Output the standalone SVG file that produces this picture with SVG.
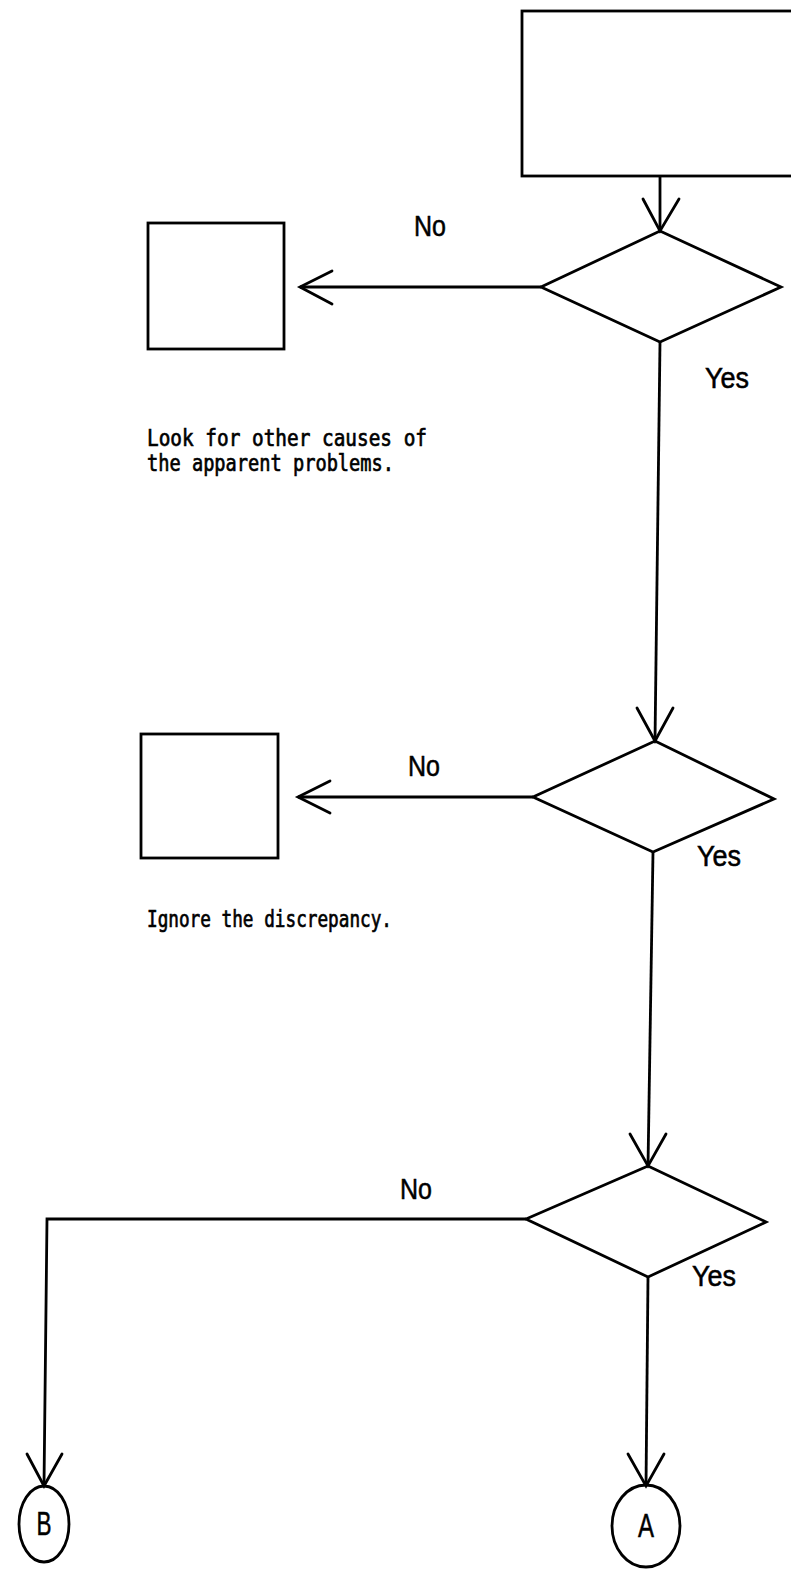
<svg xmlns="http://www.w3.org/2000/svg" width="791" height="1575" viewBox="0 0 791 1575">
  <style>
    .shape { fill: none; stroke: #000; stroke-width: 2.8; stroke-linejoin: miter; }
    .wire { fill: none; stroke: #000; stroke-width: 2.8; }
    .head { fill: none; stroke: #000; stroke-width: 2.8; stroke-linecap: round; stroke-linejoin: miter; }
    .lbl { font-family: "Liberation Sans", Arial, sans-serif; font-size: 27px; fill: #000; stroke: #000; stroke-width: 0.5; }
    .note { font-family: "DejaVu Sans Mono", "Liberation Mono", monospace; font-size: 20px; fill: #000; stroke: #000; stroke-width: 0.6; }
    .conn { font-family: "Liberation Sans", Arial, sans-serif; font-size: 26px; fill: #000; stroke: #000; stroke-width: 0.4; text-anchor: middle; }
  </style>
  <rect width="791" height="1575" fill="#fff"/>

  <!-- start box (runs off the right edge) -->
  <g id="start">
    <rect class="shape" x="522" y="11" width="290" height="165"/>
  </g>

  <!-- first decision and its "No" action -->
  <g id="decision1">
    <polygon class="shape" points="660,231 781,287 660,342 541,287"/>
  </g>
  <g id="action1">
    <rect class="shape" x="148" y="223" width="136" height="126"/>
    <text class="note" transform="translate(147,446) scale(1,1.12)" textLength="280" lengthAdjust="spacingAndGlyphs">Look for other causes of</text>
    <text class="note" transform="translate(147,471) scale(1,1.12)" textLength="247" lengthAdjust="spacingAndGlyphs">the apparent problems.</text>
  </g>

  <!-- second decision and its "No" action -->
  <g id="decision2">
    <polygon class="shape" points="655,741 774,799 653,852 533,797"/>
  </g>
  <g id="action2">
    <rect class="shape" x="141" y="734" width="137" height="124"/>
    <text class="note" transform="translate(147,927) scale(1,1.12)" textLength="245" lengthAdjust="spacingAndGlyphs">Ignore the discrepancy.</text>
  </g>

  <!-- third decision -->
  <g id="decision3">
    <polygon class="shape" points="648,1166 766,1222 648,1277 526,1219"/>
  </g>

  <!-- off-page connectors -->
  <g id="connB">
    <ellipse class="shape" cx="44" cy="1524" rx="25" ry="38"/>
    <text class="conn" transform="translate(44,1535) scale(1,1.3)" textLength="15" lengthAdjust="spacingAndGlyphs">B</text>
  </g>
  <g id="connA">
    <ellipse class="shape" cx="646" cy="1526" rx="34" ry="41"/>
    <text class="conn" transform="translate(646,1537) scale(1,1.3)" textLength="16" lengthAdjust="spacingAndGlyphs">A</text>
  </g>

  <!-- connectors -->
  <g id="connectors">
    <path class="wire" d="M660,176 L660,231"/>
    <path class="head" d="M643,199 L660,231 L679,199"/>

    <path class="wire" d="M541,287 L300,287"/>
    <path class="head" d="M332,271 L300,287 L332,304"/>
    <text class="lbl" transform="translate(414,236) scale(1,1.12)" textLength="32" lengthAdjust="spacingAndGlyphs">No</text>
    <text class="lbl" transform="translate(705,388) scale(1,1.12)" textLength="44" lengthAdjust="spacingAndGlyphs">Yes</text>

    <path class="wire" d="M660,342 L655,741"/>
    <path class="head" d="M637,708 L655,741 L673,708"/>

    <path class="wire" d="M533,797 L298,797"/>
    <path class="head" d="M330,781 L298,797 L330,813"/>
    <text class="lbl" transform="translate(408,776) scale(1,1.12)" textLength="32" lengthAdjust="spacingAndGlyphs">No</text>
    <text class="lbl" transform="translate(697,866) scale(1,1.12)" textLength="44" lengthAdjust="spacingAndGlyphs">Yes</text>

    <path class="wire" d="M653,852 L648,1166"/>
    <path class="head" d="M630,1134 L648,1166 L666,1134"/>

    <path class="wire" d="M526,1219 L47,1219 L44,1486"/>
    <path class="head" d="M27,1454 L44,1486 L62,1454"/>
    <text class="lbl" transform="translate(400,1199) scale(1,1.12)" textLength="32" lengthAdjust="spacingAndGlyphs">No</text>
    <text class="lbl" transform="translate(692,1286) scale(1,1.12)" textLength="44" lengthAdjust="spacingAndGlyphs">Yes</text>

    <path class="wire" d="M648,1277 L646,1486"/>
    <path class="head" d="M628,1454 L646,1486 L664,1454"/>
  </g>
</svg>
